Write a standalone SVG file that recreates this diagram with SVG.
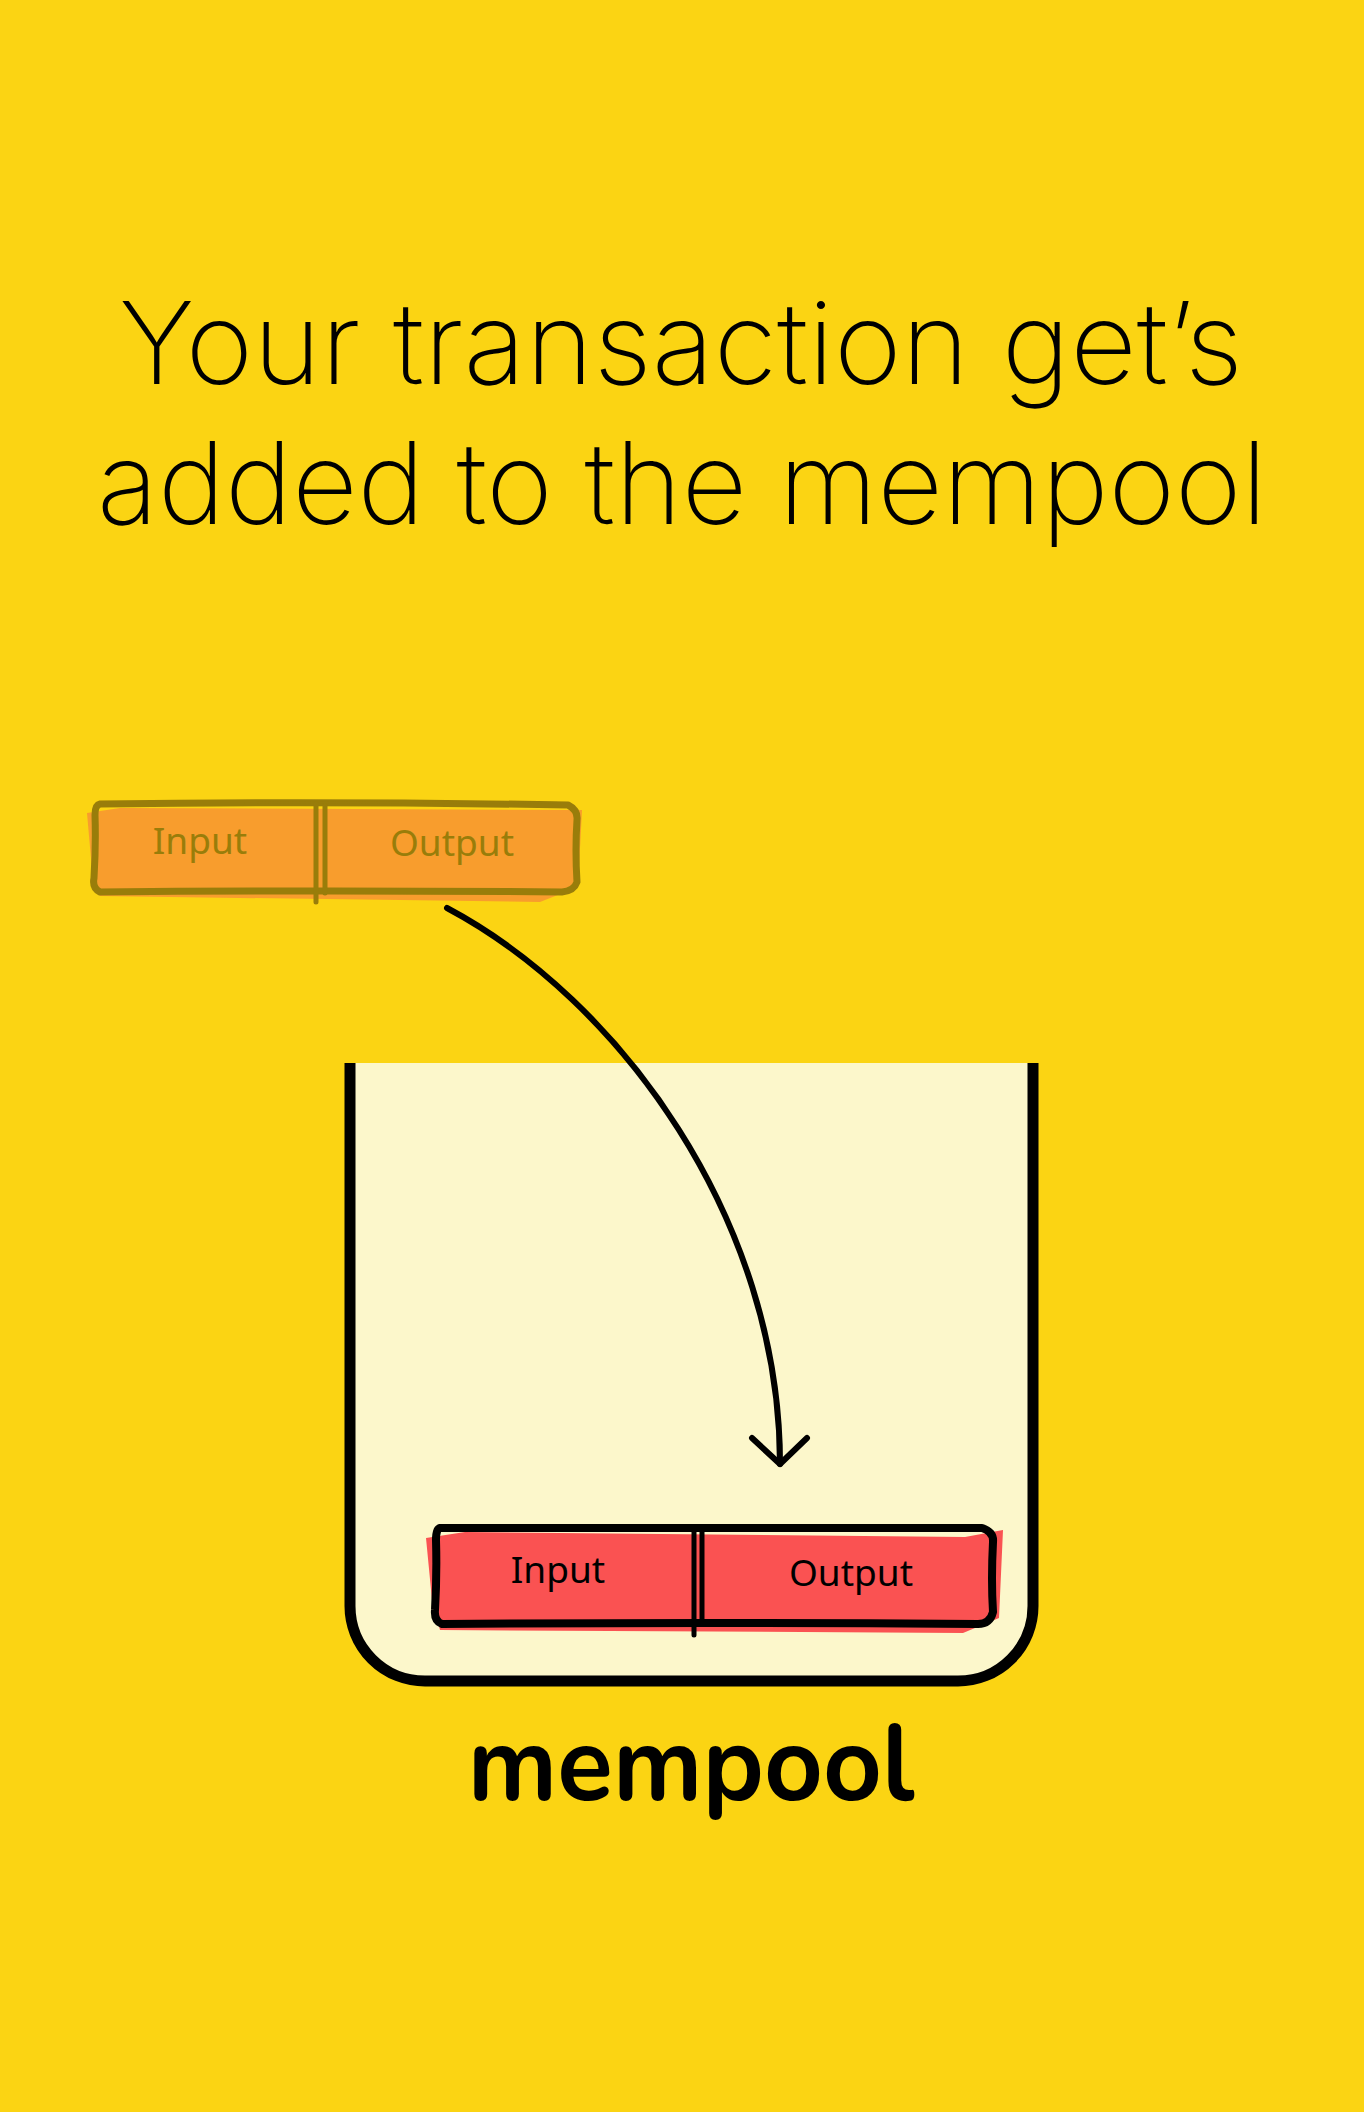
<svg xmlns="http://www.w3.org/2000/svg" width="1364" height="2112" viewBox="0 0 1364 2112">
<defs>
<style>
.title{font-family:Inter,"Open Sans","Liberation Sans",sans-serif;font-weight:200;font-size:114px;fill:#000}
.lbl{font-family:"Noto Sans","DejaVu Sans",sans-serif;font-size:37px;text-anchor:middle}
.olive{fill:#997D0A}
.olives{stroke:#997D0A;fill:none;stroke-linecap:round;stroke-linejoin:round}
.blk{stroke:#000;fill:none;stroke-linecap:round;stroke-linejoin:round}
</style>
</defs>
<rect width="1364" height="2112" fill="#FBD413"/>
<g id="title">
<text class="title" x="119" y="384" textLength="1124" lengthAdjust="spacingAndGlyphs">Your transaction get’s</text>
<text class="title" x="97" y="524" textLength="1170" lengthAdjust="spacingAndGlyphs">added to the mempool</text>
</g>
<g id="mempool">
<path d="M350,1063 V1606 A75,75 0 0 0 425,1681 H958 A75,75 0 0 0 1033,1606 V1063 Z" fill="#FCF7CB" stroke="none"/>
<path d="M350,1063 V1606 A75,75 0 0 0 425,1681 H958 A75,75 0 0 0 1033,1606 V1063" fill="none" stroke="#000" stroke-width="11"/>
<text x="691" y="1800" font-family="Nunito,'Open Sans','Liberation Sans',sans-serif" font-weight="700" font-size="108" textLength="447" lengthAdjust="spacingAndGlyphs" text-anchor="middle">mempool</text>
</g>
<g id="tx-pending">
<polygon points="87,813 120,808 582,810 578,887 540,902 100,896 92,870" fill="#F89D2D"/>
<path class="olives" stroke-width="7" d="M100,804 Q330,801 568,805 Q578,810 577,820 Q575,850 577,882 Q574,891 562,892 Q330,890 100,892 Q92,888 94,878 Q96,845 95,815 Q95,805 100,804 Z"/>
<path class="olives" stroke-width="2" d="M245,803 Q420,801 560,803"/>
<path class="olives" stroke-width="5" d="M316,804 V902 M325,806 V893"/>
<text class="lbl olive" x="200" y="854">Input</text>
<text class="lbl olive" x="452" y="856">Output</text>
</g>
<g id="tx-mempool">
<polygon points="426,1538 465,1532 965,1537 1003,1530 999,1618 963,1633 440,1630 432,1600" fill="#FA5252"/>
<path class="blk" stroke-width="8" d="M440,1528 Q700,1527 982,1528 Q994,1532 993,1542 Q991,1580 993,1612 Q990,1624 978,1624 Q700,1622 442,1624 Q434,1621 435,1610 Q437,1575 436,1540 Q436,1529 440,1528 Z"/>
<path class="blk" stroke-width="5" d="M694,1528 V1635 M702,1530 V1624"/>
<text class="lbl" x="558" y="1583" fill="#000">Input</text>
<text class="lbl" x="851" y="1586" fill="#000">Output</text>
</g>
<g id="connectors">
<path class="blk" stroke-width="6" d="M447,908 C620,1000 780,1220 780,1464"/>
<polyline class="blk" stroke-width="6" points="752,1438 780,1464 807,1438"/>
</g>
</svg>
